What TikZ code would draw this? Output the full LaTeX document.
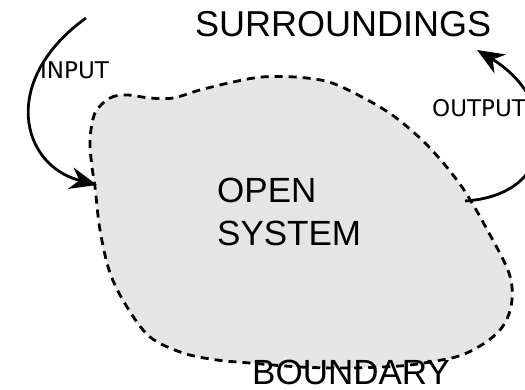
\documentclass[tikz,border=0pt]{standalone}
\usepackage{fontspec}
\setmainfont{Liberation Sans}
\newfontfamily\labelfont{DejaVu Sans}
\usetikzlibrary{arrows.meta}

\begin{document}
\begin{tikzpicture}[x=1pt,y=-1pt,
  bigtext/.style={font=\fontsize{35}{43}\selectfont, inner sep=0pt, align=left},
  smalltext/.style={font=\labelfont\fontsize{23}{27}\selectfont, inner sep=0pt},
  flow/.style={line width=2.8pt, -{Stealth[length=27pt,width=22pt]}}]
\clip (0,0) rectangle (525,390);

% System
\draw[fill=gray!20, dash pattern=on 8pt off 6pt, line width=2.8pt]
  plot[smooth cycle, tension=0.55] coordinates {
  (95,113) (110,98) (127,95) (150,98) (173,98) (200,90) (233,82) (262,77)
  (295,77) (329,82) (362,97) (395,117) (429,147) (462,187) (489,233)
  (509,273) (512,300) (505,323) (489,340) (462,355) (430,362) (400,366)
  (350,368) (300,367) (250,363) (217,360) (183,353) (150,337) (127,307)
  (110,273) (100,230) (95,187) (92,167) (90,140)};

% Labels
\node[bigtext, font=\fontsize{36}{43}\selectfont, anchor=base west] (surr) at (195,37) {SURROUNDINGS};
\node[bigtext, anchor=base west] (open) at (217,246) {OPEN\\SYSTEM};
\node[bigtext, anchor=base west] (bound) at (252,384) {BOUNDARY};
\node[smalltext, anchor=base west] (input) at (40,79) {INPUT};
\node[smalltext, anchor=base west] (output) at (432,117) {OUTPUT};

% Flows
\coordinate (instart) at (86,18);
\coordinate (inend) at (97,185);
\coordinate (outstart) at (465,201);
\coordinate (outend) at (477,50);
\draw[flow] (instart) .. controls (0,80) and (20,165) .. (inend);
\draw[flow] (outstart) .. controls (560,195) and (560,100) .. (outend);
\end{tikzpicture}
\end{document}
